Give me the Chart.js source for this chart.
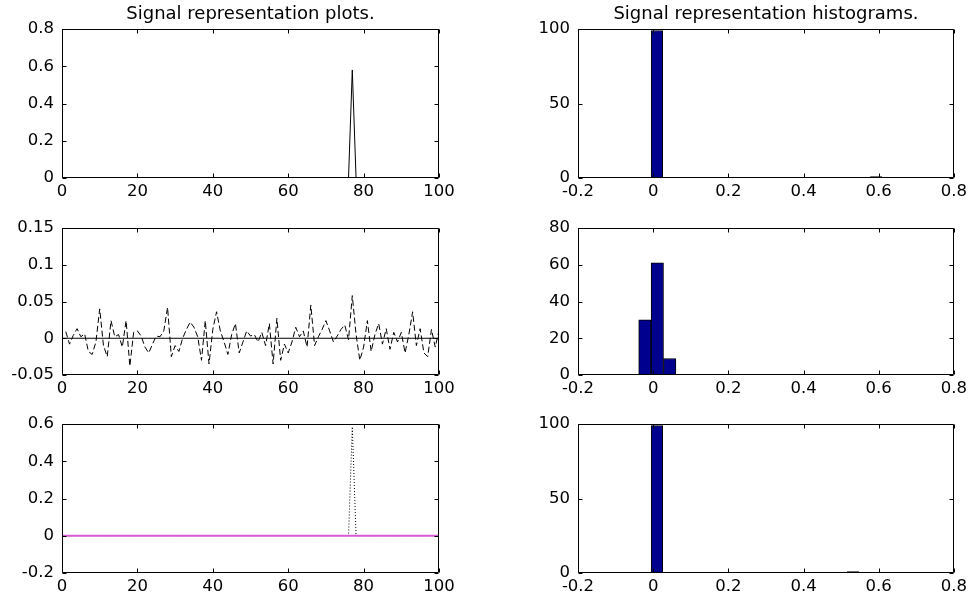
<!DOCTYPE html>
<html><head><meta charset="utf-8">
<script src="https://cdn.jsdelivr.net/npm/chart.js@4.4.1/dist/chart.umd.min.js"></script>
<style>
html,body{margin:0;padding:0;background:#fff;width:971px;height:601px;overflow:hidden;}
canvas{position:absolute;}
</style></head><body>
<canvas id="p1" width="470" height="200" style="left:0;top:0"></canvas>
<canvas id="p2" width="470" height="200" style="left:0;top:200px"></canvas>
<canvas id="p3" width="470" height="201" style="left:0;top:400px"></canvas>
<canvas id="h1" width="481" height="200" style="left:490px;top:0"></canvas>
<canvas id="h2" width="481" height="200" style="left:490px;top:200px"></canvas>
<canvas id="h3" width="481" height="201" style="left:490px;top:400px"></canvas>
<script>
// ---------- data ----------
const titles = ['Signal representation plots.', 'Signal representation histograms.'];

// sparse signal (top) : samples 1..100
const signalOriginal = [
 0,0,0,0,0,0,0,0,0,0,
 0,0,0,0,0,0,0,0,0,0,
 0,0,0,0,0,0,0,0,0,0,
 0,0,0,0,0,0,0,0,0,0,
 0,0,0,0,0,0,0,0,0,0,
 0,0,0,0,0,0,0,0,0,0,
 0,0,0,0,0,0,0,0,0,0,
 0,0,0,0,0,0,0.58,0,0,0,
 0,0,0,0,0,0,0,0,0,0,
 0,0,0,0,0,0,0,0,0,0];

// noisy representation (middle, dashed)
const signalNoisy = [
 0.009,-0.008,0.004,0.013,0.002,0.006,-0.018,-0.022,-0.005,0.040,
 -0.010,-0.025,0.024,0.002,0.005,-0.012,0.024,-0.038,0.008,0.010,
 0.003,-0.012,-0.020,-0.008,0.003,0.002,0.010,0.042,-0.025,-0.010,
 -0.018,0.000,0.012,0.022,0.015,0.002,-0.030,0.024,-0.035,0.012,
 0.036,0.010,-0.005,-0.022,0.005,0.020,-0.020,-0.005,0.010,0.003,
 0.005,-0.005,0.008,-0.010,0.020,-0.035,0.027,-0.030,-0.008,-0.020,
 -0.005,0.015,0.002,0.010,-0.012,0.045,-0.010,0.002,0.012,0.024,
 0.010,-0.005,0.003,0.012,0.018,-0.002,0.058,0.005,-0.030,-0.012,
 0.024,-0.018,0.005,0.020,-0.008,0.013,-0.015,0.008,-0.005,0.008,
 -0.020,0.005,0.036,-0.010,0.013,-0.020,-0.025,0.012,-0.012,0.010];

// recovered signal (bottom, dotted)
const signalRecovered = [
 0,0,0,0,0,0,0,0,0,0,
 0,0,0,0,0,0,0,0,0,0,
 0,0,0,0,0,0,0,0,0,0,
 0,0,0,0,0,0,0,0,0,0,
 0,0,0,0,0,0,0,0,0,0,
 0,0,0,0,0,0,0,0,0,0,
 0,0,0,0,0,0,0,0,0,0,
 0,0,0,0,0,0,0.585,0,0,0,
 0,0,0,0,0,0,0,0,0,0,
 0,0,0,0,0,0,0,0,0,0];

const zeroLineX = [0, 100];
const zeroLineY = [0, 0];

// histograms
const binsWide = [0.010,0.0407,0.0714,0.1021,0.1328,0.1635,0.1942,0.2249,0.2556,0.2863,
                  0.3170,0.3477,0.3784,0.4091,0.4398,0.4705,0.5012,0.5319,0.5626,0.5933];
const countsOriginal  = [99,0,0,0,0,0,0,0,0,0,0,0,0,0,0,0,0,0,0,1];
const binsNoisy = [-0.022, 0.011, 0.044];
const countsNoisy = [30, 61, 9];
const countsRecovered = [99,0,0,0,0,0,0,0,0,0,0,0,0,0,0,0,0,1,0,0];

// axis ranges [min, max, step]
const plotXRange = [0, 100, 20];
const plotY1 = [0, 0.8, 0.2];
const plotY2 = [-0.05, 0.15, 0.05];
const plotY3 = [-0.2, 0.6, 0.2];
const histXRange = [-0.2, 0.8, 0.2];
const histY1 = [0, 100, 50];
const histY2 = [0, 80, 20];
const histY3 = [0, 100, 50];

// ---------- rendering ----------
Chart.defaults.font.family = "'DejaVu Sans', sans-serif";
Chart.defaults.font.size = 16.5;
Chart.defaults.color = '#000';

const fmt = v => String(+(+v).toFixed(4));

const boxPlugin = {
  id: 'mbox',
  afterDatasetsDraw(chart) {
    const {ctx, chartArea: a, scales: {x, y}} = chart;
    const L = Math.round(a.left) + 0.5, R = Math.round(a.right) - 0.5;
    const T = Math.round(a.top) + 0.5, B = Math.round(a.bottom) - 0.5;
    ctx.save();
    ctx.strokeStyle = '#000'; ctx.lineWidth = 1;
    ctx.beginPath();
    ctx.rect(L, T, R - L, B - T);
    x.ticks.forEach(t => {
      const p = Math.round(x.getPixelForValue(t.value)) + 0.5;
      ctx.moveTo(p, B); ctx.lineTo(p, B - 4);
      ctx.moveTo(p, T); ctx.lineTo(p, T + 4);
    });
    y.ticks.forEach(t => {
      const p = Math.round(y.getPixelForValue(t.value)) + 0.5;
      ctx.moveTo(L, p); ctx.lineTo(L + 4, p);
      ctx.moveTo(R, p); ctx.lineTo(R - 4, p);
    });
    ctx.stroke();
    const tt = chart.options.plugins.mtitle;
    if (tt && tt.text) {
      ctx.fillStyle = '#000';
      ctx.font = "18px 'DejaVu Sans', sans-serif";
      ctx.textAlign = 'center';
      ctx.textBaseline = 'middle';
      ctx.fillText(tt.text, (a.left + a.right) / 2, 14);
    }
    ctx.restore();
  }
};

function axis(range, fixed, isX) {
  return {
    type: 'linear',
    min: range[0], max: range[1],
    offset: false,
    grid: {display: false, drawTicks: false, offset: false},
    border: {display: false},
    ticks: {stepSize: range[2], autoSkip: false, maxRotation: 0, padding: isX ? 4 : 8,
            callback: fmt, color: '#000'},
    afterFit: s => { if (isX) s.height = fixed; else s.width = fixed; }
  };
}

function opts(xr, yr, yw, xh, padTop, padRight, title) {
  return {
    responsive: false, animation: false,
    layout: {padding: {top: padTop, right: padRight, left: 0, bottom: 0}},
    plugins: {legend: {display: false}, tooltip: {enabled: false}, mtitle: {text: title || ''}},
    scales: {x: axis(xr, xh, true), y: axis(yr, yw, false)}
  };
}

const idx = signalOriginal.map((_, i) => i + 1);
const pts = arr => arr.map((v, i) => ({x: idx[i], y: v}));
const zeroPts = zeroLineX.map((x, i) => ({x, y: zeroLineY[i]}));
const lineDs = (data, color, dash, w) => ({type: 'line', data, borderColor: color, borderWidth: w || 1,
  borderDash: dash || [], pointRadius: 0, tension: 0, fill: false});

new Chart(document.getElementById('p1'), {
  type: 'line',
  data: {datasets: [lineDs(pts(signalOriginal), '#000')]},
  options: opts(plotXRange, plotY1, 62, 22, 29, 31, titles[0]),
  plugins: [boxPlugin]
});
new Chart(document.getElementById('p2'), {
  type: 'line',
  data: {datasets: [lineDs(zeroPts, '#000'), lineDs(pts(signalNoisy), '#000', [6, 3])]},
  options: opts(plotXRange, plotY2, 62, 25, 28, 31),
  plugins: [boxPlugin]
});
new Chart(document.getElementById('p3'), {
  type: 'line',
  data: {datasets: [lineDs(zeroPts, '#d65cd6', [], 2), lineDs(pts(signalRecovered), '#000', [1, 2])]},
  options: opts(plotXRange, plotY3, 62, 28, 24, 31),
  plugins: [boxPlugin]
});

const barDs = (bins, counts) => ({type: 'bar',
  data: bins.map((b, i) => ({x: b, y: counts[i]})),
  backgroundColor: '#00008f', borderColor: '#000', borderWidth: 1,
  barPercentage: 1, categoryPercentage: 1, grouped: false});

new Chart(document.getElementById('h1'), {
  type: 'bar',
  data: {datasets: [barDs(binsWide, countsOriginal)]},
  options: opts(histXRange, histY1, 88, 22, 29, 15, titles[1]),
  plugins: [boxPlugin]
});
new Chart(document.getElementById('h2'), {
  type: 'bar',
  data: {datasets: [barDs(binsNoisy, countsNoisy)]},
  options: opts(histXRange, histY2, 88, 25, 28, 15),
  plugins: [boxPlugin]
});
new Chart(document.getElementById('h3'), {
  type: 'bar',
  data: {datasets: [barDs(binsWide, countsRecovered)]},
  options: opts(histXRange, histY3, 88, 28, 24, 15),
  plugins: [boxPlugin]
});
</script>
</body></html>
